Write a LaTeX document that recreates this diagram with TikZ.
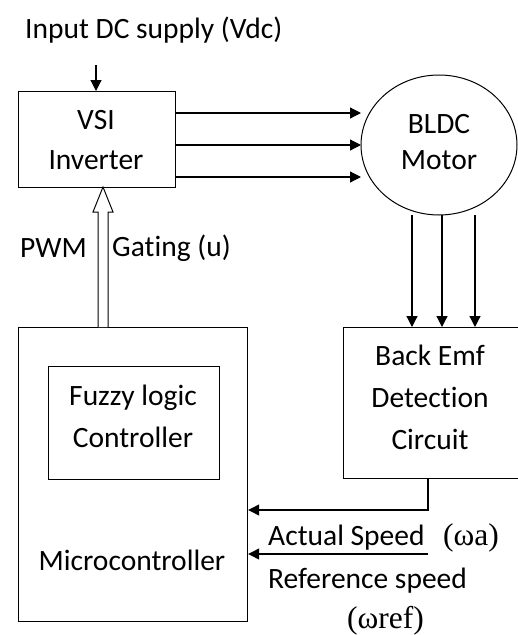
\documentclass[tikz,border=0pt]{standalone}
\usepackage{fontspec}
\setmainfont{Carlito}[Ligatures=NoCommon]
\newfontfamily\grk{Liberation Serif}
\usetikzlibrary{arrows.meta,calc,shapes.geometric}
\begin{document}
\begin{tikzpicture}[x=1pt,y=-1pt,
  every node/.style={font=\fontsize{29.5}{40}\selectfont, inner sep=0pt},
  blk/.style={draw, line width=1.2pt, anchor=north west},
  lbl/.style={anchor=center},
  conn/.style={line width=1.2pt, -{Triangle[length=11pt,width=11pt]}}]
\useasboundingbox (0,0) rectangle (518,635);
% boxes
\node[blk, minimum width=157pt, minimum height=96pt] (vsi) at (18,91) {};
\node[lbl, align=center, font=\fontsize{29.5}{40}\selectfont] at (96,140) {VSI\\Inverter};
\node[draw, line width=1pt, ellipse, minimum width=156pt, minimum height=140pt] (motor) at (439,145) {};
\node[lbl, align=center, font=\fontsize{29.5}{36}\selectfont] at (439,142) {BLDC\\Motor};
\node[blk, minimum width=229pt, minimum height=294pt] (micro) at (18,327) {};
\node[blk, minimum width=171pt, minimum height=113pt] (fuzzy) at (48,366) {};
\node[lbl, align=center, font=\fontsize{29.5}{42}\selectfont] at (133,416) {Fuzzy logic\\Controller};
\node[lbl] (microtxt) at (132,560) {Microcontroller};
\node[blk, minimum width=180pt, minimum height=151pt] (emf) at (343,327) {};
\node[lbl, align=center, font=\fontsize{29.5}{42}\selectfont] at (430,397) {Back Emf\\Detection\\Circuit};
% texts
\node[anchor=west] (vdc) at (25,30) {Input DC supply (Vdc)};
\node[anchor=west] (pwm) at (20,248) {PWM};
\node[anchor=west] (gate) at (112,248) {Gating (u)};
\node[anchor=west] (act) at (268,538) {Actual Speed};
\node[anchor=west] (wa) at (443,538) {{\grk\fontsize{31.5}{36}\selectfont (ωa)}};
\node[anchor=west] (ref) at (268,581) {Reference speed};
\node[anchor=west] (wref) at (347,621) {{\grk\fontsize{31.5}{36}\selectfont (ωref)}};
% connectors
\coordinate (vin) at (96,65);
\draw[conn] (vin) -- (vin |- vsi.north);
\foreach \yy in {113,145,177}{
  \coordinate (s) at (175,\yy);
  \coordinate (t) at (361,\yy);
  \draw[conn] (s) -- (t);
}
\foreach \xx in {412,442,475}{
  \coordinate (s) at (\xx,215);
  \draw[conn] (s) -- (s |- emf.north);
}
% hollow PWM arrow
\coordinate (gA) at (103,327);
\coordinate (gB) at (103,187);
\draw[line width=1pt, fill=white] ($(gA)+(-5,0)$) -- ($(gB)+(-5,25)$) -- ($(gB)+(-10,25)$) -- (gB) -- ($(gB)+(10,25)$) -- ($(gB)+(5,25)$) -- ($(gA)+(5,0)$);
% feedback
\coordinate (fb) at (428,478);
\draw[conn] (fb) -- (428,510) -- (micro.east |- 0,510);
\coordinate (as) at (428,554);
\draw[conn] (as) -- (micro.east |- as);
\end{tikzpicture}
\end{document}
